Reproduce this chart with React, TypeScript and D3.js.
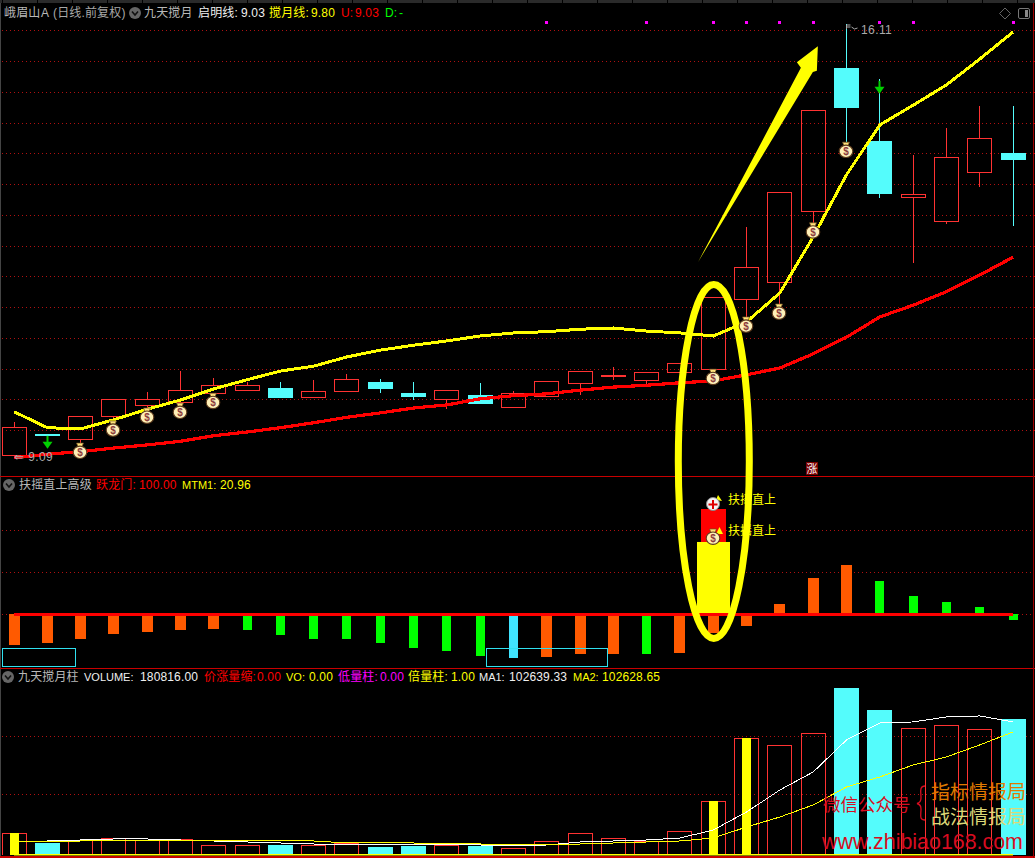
import React from "react";
import * as d3 from "d3";

// ---------- data ----------
const opens = [9.11,9.45,9.37,9.74,9.92,9.97,10.11,10.16,10.20,10.05,10.15,10.29,10.11,10.02,10.08,9.89,10.07,10.28,10.40,10.33,10.46,10.50,11.64,11.92,13.07,15.40,14.21,13.30,12.91,13.71,14.01];
const closes = [9.56,9.45,9.74,10.02,10.02,10.16,10.24,10.24,10.03,10.15,10.34,10.18,10.05,10.16,9.94,10.11,10.31,10.47,10.41,10.46,10.60,11.67,12.16,13.38,14.71,14.75,13.35,13.35,13.95,14.26,13.90];
const highs = [9.64,9.45,9.74,10.02,10.13,10.47,10.36,10.29,10.29,10.33,10.42,10.34,10.29,10.16,10.28,10.15,10.31,10.47,10.54,10.46,10.60,11.67,12.81,13.38,14.71,16.11,15.22,13.98,14.42,14.78,14.78];
const lows = [9.09,9.45,9.30,9.66,9.87,9.95,10.11,10.15,10.03,10.05,10.15,10.11,10.00,9.85,9.94,9.89,10.05,10.08,10.33,10.24,10.46,10.50,11.35,11.56,12.88,14.19,13.28,12.23,12.86,13.46,12.83];
const moonLine = [9.81,9.55,9.53,9.68,9.85,10.00,10.18,10.33,10.47,10.55,10.70,10.81,10.89,10.96,11.04,11.09,11.11,11.15,11.17,11.12,11.09,11.04,11.27,11.74,12.65,13.66,14.47,14.79,15.12,15.54,15.98];
const dawnLine = [9.06,9.12,9.16,9.22,9.27,9.33,9.42,9.48,9.55,9.63,9.72,9.79,9.87,9.92,10.02,10.07,10.10,10.16,10.21,10.24,10.28,10.31,10.41,10.52,10.75,11.02,11.35,11.54,11.76,12.03,12.32];
const bagDays = [2,3,4,5,6,21,22,23,24,25];
const sellArrowDays = [1,26];
const topDots = [16,19,21,22,23,24,26,27,30];
const priceGrid = [16.0,15.5,15.0,14.5,14.0,13.5,13.0,12.5,12.0,11.5,11.0,10.5,10.0,9.5];

const momentum = [-29.5,-27.6,-23.8,-19.0,-17.1,-15.2,-14.3,-15.2,-20.0,-23.8,-23.8,-27.6,-32.4,-35.2,-40.0,-41.9,-41.0,-38.1,-38.1,-38.1,-37.1,-18.1,-11.4,9.5,34.3,46.7,31.4,17.1,11.4,6.7,-5.7];
const momentumKinds = ["o","o","o","o","o","o","o","g","g","g","g","g","g","g","g","c","o","o","o","g","o","o","o","o","o","o","g","g","g","g","g"];
const momentumGrid = [79.9, 40];
const gateValue = 100;
const mtmValue = 68.6;
const gateDay = 21;
const boxes = [[-0.36, 1.83], [14.2, 17.84]];
const boxRange = [-32.4, -49.5];

const volumes = [29260,15960,19950,22610,19950,21280,13300,13300,13300,13300,15960,10640,11970,13300,11970,9310,18620,29260,22610,18620,31920,71820,155610,146300,162260,222110,192850,168910,172900,167580,180816];
const ma1 = [null,18620,19950,21280,21280,19950,18620,17290,15960,14630,13300,13300,13300,13300,13300,11970,13300,17290,18620,19950,22610,33250,57190,86450,110390,152950,175560,176890,183540,184870,176890];
const ma2 = [17290,17290,18620,18620,18620,18620,18620,18620,18620,18620,15960,15960,15960,14630,14630,13300,13300,14630,15960,17290,18620,22610,37240,50540,66500,90440,103740,119700,130340,146300,163590];
const yellowVolDays = [0,21,22];
const volumeGrid = [156940, 79800];

const W = 1035, H = 858;
const x = d3.scaleLinear().domain([0, 30]).range([14, 1013]);
const yP = d3.scaleLinear().domain([9.09, 16.11]).range([456, 24]);
const yM = d3.scaleLinear().domain([0, 100]).range([614, 509]);
const yV = d3.scaleLinear().domain([0, 180816]).range([855, 719]);
const px = (i: number) => Math.floor(x(i)) + 0.5;
const CN = "'Liberation Sans','Noto Sans CJK SC',sans-serif";
const LAT = "'Liberation Sans',Arial,sans-serif";
const RED = "#ff3232", CY = "#54fcfc", YE = "#ffff00";

const arrowShape: [number, number][] = [[20.54,12.24],[23.63,15.40],[23.51,15.49],[24.14,15.75],[24.11,15.35],[23.99,15.33]];

function Bag({ cx, cy }: { cx: number; cy: number }) {
  return (
    <g transform={`translate(${cx},${cy})`}>
      <path d="M-3.5,-8 L3.5,-8 L1.8,-4 L-1.8,-4 Z" fill="#ffe27a" stroke="#6b4a20" strokeWidth={0.7} />
      <ellipse cx={0} cy={1.2} rx={6.8} ry={6.2} fill="#fff0b8" stroke="#5c3a1c" strokeWidth={1.1} />
      <text x={0} y={4.8} textAnchor="middle" fontSize={10} fontWeight={700} fontFamily={LAT} fill="#8c3c3c">$</text>
    </g>
  );
}

function Icon({ cx, cy }: { cx: number; cy: number }) {
  return (
    <g>
      <circle cx={cx} cy={cy} r={6} fill="#666" />
      <path d={`M${cx - 3},${cy - 1.5} L${cx},${cy + 2} L${cx + 3},${cy - 1.5}`} fill="none" stroke="#111" strokeWidth={1.6} />
    </g>
  );
}

type Seg = [number, string, string];
function Txt({ segs, y }: { segs: Seg[]; y: number }) {
  return (
    <g>
      {segs.map(([tx, str, fill], k) => {
        const latinLabel = /^[A-Z0-9]+:$/.test(str) && str.length > 2;
        return (
          <text key={k} x={tx} y={y} fill={fill} fontSize={latinLabel ? 11 : 12} letterSpacing={latinLabel ? 0 : 0.15} fontFamily={CN}>{str}</text>
        );
      })}
    </g>
  );
}

function Dotted({ y, x0 = 2, x1 = 1032 }: { y: number; x0?: number; x1?: number }) {
  const yy = Math.floor(y) + 0.5;
  return <line x1={x0} x2={x1} y1={yy} y2={yy} stroke="#b01010" strokeWidth={1} strokeDasharray="1 3" shapeRendering="crispEdges" />;
}

export default function App() {
  const days = d3.range(31);
  const lineP = d3.line<number>().x((_, i) => x(i)).y((d) => yP(d));
  const lineV = d3.line<number | null>().defined((d) => d !== null).x((_, i) => x(i)).y((d) => yV(d as number));
  const kindColor: Record<string, string> = { o: "#ff5a00", g: "#00ff00", c: "#40e4ff" };
  const isDown = (i: number) => closes[i] <= opens[i];

  return (
    <svg width={W} height={H} viewBox={`0 0 ${W} ${H}`} style={{ position: "absolute", left: 0, top: 0, background: "#000", display: "block" }}>
      <rect x={0} y={0} width={W} height={H} fill="#000" />
      {/* frame */}
      <rect x={0} y={0} width={W} height={3} fill="#2a2a2a" />
      {d3.range(0, 31).map((k) => <rect key={k} x={k * 35 + 2} y={0} width={1} height={3} fill="#000" />)}
      <rect x={0} y={3} width={1} height={H} fill="#444" />

      {/* grids */}
      {priceGrid.map((g) => <Dotted key={g} y={yP(g)} />)}
      {momentumGrid.map((g) => <Dotted key={g} y={yM(g)} />)}
      <Dotted y={yM(0)} />
      {volumeGrid.map((g) => <Dotted key={g} y={yV(g)} />)}

      <rect x={0} y={476} width={W} height={1} fill="#c80000" />
      <rect x={0} y={668} width={W} height={1} fill="#c80000" />
      <rect x={0} y={856} width={W} height={2} fill="#c80000" />
      <rect x={1033} y={3} width={1} height={H} fill="#a00000" />
      {priceGrid.map((g) => <rect key={g} x={1033} y={Math.floor(yP(g))} width={2} height={1} fill="#c80000" />)}

      {/* candles */}
      {days.map((i) => {
        const cx = px(i);
        const top = Math.max(opens[i], closes[i]), bot = Math.min(opens[i], closes[i]);
        const down = isDown(i);
        const c = down ? CY : RED;
        const yt = Math.round(yP(top)), yb = Math.round(yP(bot));
        return (
          <g key={i} shapeRendering="crispEdges">
            <line x1={cx} x2={cx} y1={yP(highs[i])} y2={yt} stroke={c} />
            <line x1={cx} x2={cx} y1={yb} y2={yP(lows[i])} stroke={c} />
            {down ? (
              <rect x={cx - 12.5} y={yt} width={25} height={Math.max(yb - yt, 2)} fill={CY} />
            ) : (
              <rect x={cx - 12} y={yt + 0.5} width={24} height={Math.max(yb - yt, 1)} fill="none" stroke={RED} />
            )}
          </g>
        );
      })}

      <path d={lineP(dawnLine) || ""} fill="none" stroke="#ff0000" strokeWidth={3.2} shapeRendering="crispEdges" />
      <path d={lineP(moonLine) || ""} fill="none" stroke={YE} strokeWidth={3} shapeRendering="crispEdges" />

      {/* sell arrows */}
      {sellArrowDays.map((i) => {
        const cx = px(i), t = yP(highs[i]) + 2;
        return (
          <g key={i}>
            <rect x={cx - 1} y={t} width={2} height={7} fill="#00c800" />
            <path d={`M${cx - 5},${t + 6} L${cx + 5},${t + 6} L${cx},${t + 13} Z`} fill="#00d000" />
          </g>
        );
      })}

      {/* top magenta markers */}
      {topDots.map((i) => <rect key={i} x={Math.floor(x(i)) - 1} y={21} width={3} height={3} fill="#ff00ff" />)}

      {/* momentum bars */}
      {days.map((i) => {
        const k = momentumKinds[i];
        const w = k === "o" ? 11 : 9;
        const v = momentum[i];
        const y0 = yM(Math.max(v, 0)), y1 = yM(Math.min(v, 0));
        return <rect key={i} x={Math.round(x(i) - w / 2)} y={y0} width={w} height={y1 - y0} fill={kindColor[k]} shapeRendering="crispEdges" />;
      })}
      <rect x={px(gateDay) - 12.5} y={yM(gateValue)} width={25} height={yM(mtmValue) - yM(gateValue)} fill="#ff0000" />
      <rect x={px(gateDay) - 16.5} y={yM(mtmValue)} width={33} height={yM(0) - yM(mtmValue)} fill={YE} />
      <path d={`M${x(0)},${yM(0)} L${x(30)},${yM(0)}`} stroke="#ff0000" strokeWidth={3} shapeRendering="crispEdges" />
      {boxes.map(([a, b], k) => (
        <rect key={k} x={Math.floor(x(a)) + 0.5} y={Math.floor(yM(boxRange[0])) + 0.5} width={x(b) - x(a)} height={yM(boxRange[1]) - yM(boxRange[0])} fill="none" stroke="#30e0f0" shapeRendering="crispEdges" />
      ))}

      {/* signal labels in the momentum pane */}
      <text x={728} y={504} fill={YE} fontSize={12} fontFamily={CN}>扶摇直上</text>
      <text x={728} y={535} fill={YE} fontSize={12} fontFamily={CN}>扶摇直上</text>
      <path d="M716,500 L722,501 L718,495 Z" fill={YE} />
      <path d="M716,534 L723,534 L719.5,527 Z" fill={YE} />
      <circle cx={713} cy={504} r={6.5} fill="#f4f4f4" stroke="#888" />
      <path d="M708.5,504.5 H717.5 M713,500 V509" stroke="#e00000" strokeWidth={2} />

      {/* volume */}
      {days.map((i) => {
        const cx = px(i);
        const t = Math.round(yV(volumes[i]));
        const b = yV(0);
        return isDown(i) ? (
          <rect key={i} x={cx - 12.5} y={t} width={25} height={b - t} fill={CY} shapeRendering="crispEdges" />
        ) : (
          <path key={i} d={`M${cx - 12},${b} V${t + 0.5} H${cx + 12} V${b}`} fill="none" stroke={RED} shapeRendering="crispEdges" />
        );
      })}
      {yellowVolDays.map((i) => {
        const t = Math.round(yV(volumes[i]));
        return <rect key={i} x={Math.floor(x(i)) - 4} y={t} width={9} height={yV(0) - t} fill={YE} shapeRendering="crispEdges" />;
      })}
      <path d={lineV(ma1) || ""} fill="none" stroke="#ffffff" strokeWidth={1} shapeRendering="crispEdges" />
      <path d={lineV(ma2) || ""} fill="none" stroke={YE} strokeWidth={1} shapeRendering="crispEdges" />
      <rect x={x(0)} y={854} width={x(30) - x(0)} height={1.5} fill={YE} />

      {/* hand-drawn annotations */}
      <path d={`M${arrowShape.map(([a, b]) => `${x(a)},${yP(b)}`).join(" L")} Z`} fill={YE} />
      <ellipse cx={x(21) + 0.5} cy={461.5} rx={35.5} ry={177} fill="none" stroke={YE} strokeWidth={7} />

      {/* money bags */}
      {bagDays.map((i) => <Bag key={i} cx={px(i) - 0.5} cy={yP(lows[i]) + 8} />)}
      <Bag cx={713} cy={537} />

      {/* price labels */}
      <text x={14} y={461} fill="#aaa" fontSize={12} fontFamily={LAT} letterSpacing={0.4}>⇐ 9.09</text>
      <path d={`M${px(25)},25 v4 M${px(25)},25 h4 M${px(25)},27 h4 M${px(25) + 5},27 l3,2 l3,-1`} stroke="#aaa" fill="none" />
      <text x={861} y={34} fill="#aaa" fontSize={12} fontFamily={LAT} letterSpacing={0.4}>16.11</text>
      <rect x={806} y={462} width={12} height={13} fill="#7a0000" />
      <text x={812} y={473} textAnchor="middle" fill="#fff" fontSize={11} fontFamily={CN}>涨</text>

      {/* corner icons */}
      <path d="M1005,8 L1010.5,13.5 L1005,19 L999.5,13.5 Z" fill="none" stroke="#666" />
      <rect x={1018.5} y={8.5} width={11} height={10} rx={1.5} fill="none" stroke="#777" />
      <rect x={1025} y={10} width={3} height={7} fill="#888" />

      {/* headers */}
      <Txt y={17} segs={[[4,"峨眉山","#b8b8b8"],[41,"A","#b8b8b8"],[53,"(日线.前复权)","#a8a8a8"],[144,"九天搅月","#b8b8b8"],[198,"启明线:","#f0f0f0"],[241,"9.03","#f0f0f0"],[269,"搅月线:",YE],[311,"9.80",YE],[341,"U:","#ff0000"],[355,"9.03","#ff0000"],[385,"D:","#00ff00"],[399,"-","#00ff00"]]} />
      <Icon cx={135} cy={13} />
      <Txt y={489} segs={[[19,"扶摇直上高级","#b8b8b8"],[96,"跃龙门:","#ff0000"],[139,"100.00","#ff0000"],[182,"MTM1:",YE],[220,"20.96",YE]]} />
      <Icon cx={9} cy={485} />
      <Txt y={681} segs={[[18,"九天搅月柱","#b8b8b8"],[84,"VOLUME:","#f0f0f0"],[140,"180816.00","#f0f0f0"],[204,"价涨量缩:","#ff0000"],[257,"0.00","#ff0000"],[286,"VO:",YE],[309,"0.00",YE],[338,"低量柱:","#ff00ff"],[380,"0.00","#ff00ff"],[408,"倍量柱:",YE],[451,"1.00",YE],[479,"MA1:","#f0f0f0"],[509,"102639.33","#f0f0f0"],[573,"MA2:",YE],[602,"102628.65",YE]]} />
      <Icon cx={8} cy={677} />

      {/* watermark */}
      <text x={823} y={811} fill="#d80c20" fontSize={17.5} fontFamily={CN}>微信公众号</text>
      <path d="M925,786 C919,786 921,792 921,798 C921,802 919,803 917,803.5 C919,804 921,805 921,809 C921,815 919,820 925,820" fill="none" stroke="#d80c20" strokeWidth={1.3} />
      <text x={931} y={799} fill="#e07a00" fontSize={19} fontFamily={CN}>指标情报局</text>
      <text x={931} y={824} fill="#dcd878" fontSize={19} fontFamily={CN}>战法情报局</text>
      <text x={822} y={849} fill="#d80c20" fontSize={21.4} fontFamily={LAT}>www.zhibiao168.com</text>
    </svg>
  );
}
